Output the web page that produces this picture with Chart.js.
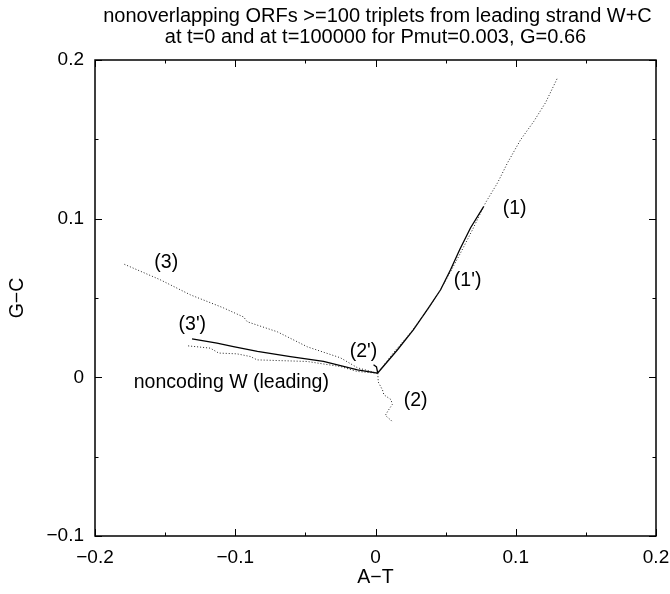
<!DOCTYPE html>
<html>
<head>
<meta charset="utf-8">
<script src="https://cdn.jsdelivr.net/npm/chart.js@4.4.1/dist/chart.umd.min.js"></script>
<style>
  html, body { margin: 0; padding: 0; background: #fff; }
</style>
</head>
<body>
<canvas id="c" width="670" height="594"></canvas>
<script>
// (1) ORFs at t=0, dotted
const orf1X = [0.0014, 0.0128, 0.025, 0.0371, 0.0464, 0.0535, 0.0607, 0.0692, 0.0785, 0.0871, 0.0942, 0.1035, 0.1128, 0.1213, 0.1299];
const orf1Y = [0.0026, 0.0155, 0.0281, 0.0426, 0.0552, 0.0666, 0.0785, 0.0931, 0.1101, 0.1227, 0.1353, 0.1498, 0.1612, 0.1732, 0.189];
// (1') ORFs at t=100000, solid
const orf1pX = [0.0014, 0.0157, 0.0271, 0.0378, 0.0464, 0.0535, 0.060, 0.0678, 0.0771];
const orf1pY = [0.0026, 0.0174, 0.030, 0.0438, 0.0552, 0.0678, 0.0804, 0.0943, 0.1076];
// (2) dotted
const orf2X = [0.0016, 0.002, 0.005, 0.006, 0.011, 0.012, 0.009, 0.007, 0.011, 0.012];
const orf2Y = [0.0026, -0.003, -0.008, -0.011, -0.014, -0.017, -0.021, -0.024, -0.027, -0.028];
// (2') solid
const orf2pX = [0.0016, 0.0007, -0.0014];
const orf2pY = [0.0026, 0.0066, 0.0079];
// (3) dotted
const orf3X = [0.0014, -0.0128, -0.025, -0.0485, -0.070, -0.0914, -0.094, -0.1085, -0.132, -0.1535, -0.180];
const orf3Y = [0.0026, 0.006, 0.0123, 0.0192, 0.0287, 0.035, 0.038, 0.0438, 0.052, 0.0615, 0.0716];
// (3') solid
const orf3pX = [0.0014, -0.0128, -0.0371, -0.0607, -0.0842, -0.1013, -0.113, -0.1308];
const orf3pY = [0.0026, 0.0047, 0.010, 0.0131, 0.0163, 0.0194, 0.0216, 0.0243];
// noncoding W (leading), dotted
const ncX = [0.0014, -0.0131, -0.025, -0.0488, -0.0702, -0.0844, -0.0892, -0.0987, -0.1118, -0.1178, -0.1344];
const ncY = [0.0026, 0.0037, 0.0068, 0.010, 0.0106, 0.011, 0.0131, 0.0148, 0.0153, 0.0184, 0.0199];

const xTicks = [-0.2, -0.1, 0, 0.1, 0.2];
const yTicks = [-0.1, 0, 0.1, 0.2];

const titleLines = ['nonoverlapping ORFs >=100 triplets from leading strand W+C',
                    'at t=0 and at t=100000 for Pmut=0.003, G=0.66'];
const labelText = ['(1)', "(1')", '(3)', "(3')", "(2')", '(2)', 'noncoding W (leading)'];
const labelX = [0.0992, 0.0657, -0.1492, -0.1306, -0.0086, 0.0286, -0.1028];
const labelY = [0.1063, 0.0609, 0.0722, 0.0331, 0.0161, -0.0148, -0.0035];

const FONT = '"Liberation Sans", Arial, Helvetica, sans-serif';
const pts = (xs, ys) => xs.map((v, i) => ({ x: v, y: ys[i] }));
const fmt = v => (Math.abs(v) < 1e-9 ? '0' : v.toFixed(1).replace('-', '\u2212'));

const dotted = (data) => ({ data, borderColor: '#222', borderWidth: 1, borderDash: [1, 2], pointRadius: 0, showLine: true, fill: false, tension: 0 });
const solid = (data) => ({ data, borderColor: '#000', borderWidth: 1.3, pointRadius: 0, showLine: true, fill: false, tension: 0 });

// no extra padding for overhanging tick labels
const noPad = s => { s.paddingLeft = s.paddingRight = s.paddingTop = s.paddingBottom = 0; };

const framePlugin = {
  id: 'frame',
  afterDatasetsDraw(chart) {
    const { ctx, chartArea: a, scales: { x, y } } = chart;
    ctx.save();
    ctx.strokeStyle = '#000';
    ctx.lineWidth = 1;
    ctx.beginPath();
    const xVals = [];
    xTicks.forEach((v, i) => {
      xVals.push([v, 7]);
      if (i < xTicks.length - 1) xVals.push([(v + xTicks[i + 1]) / 2, 3.5]);
    });
    xVals.forEach(([v, len]) => {
      const px = Math.round(x.getPixelForValue(v)) + 0.5;
      ctx.moveTo(px, a.bottom); ctx.lineTo(px, a.bottom - len);
      ctx.moveTo(px, a.top); ctx.lineTo(px, a.top + len);
    });
    const yVals = [];
    yTicks.forEach((v, i) => {
      yVals.push([v, 7]);
      if (i < yTicks.length - 1) yVals.push([(v + yTicks[i + 1]) / 2, 3.5]);
    });
    yVals.forEach(([v, len]) => {
      const py = Math.round(y.getPixelForValue(v)) + 0.5;
      ctx.moveTo(a.left, py); ctx.lineTo(a.left + len, py);
      ctx.moveTo(a.right, py); ctx.lineTo(a.right - len, py);
    });
    ctx.stroke();
    ctx.lineWidth = 1.5;
    ctx.strokeRect(a.left, a.top, a.right - a.left, a.bottom - a.top);

    ctx.fillStyle = '#000';
    ctx.textAlign = 'center';
    ctx.textBaseline = 'middle';
    ctx.font = '19.5px ' + FONT;
    labelText.forEach((t, i) => {
      ctx.fillText(t, x.getPixelForValue(labelX[i]), y.getPixelForValue(labelY[i]));
    });
    const cx = (a.left + a.right) / 2;
    ctx.fillText('A\u2212T', cx, 578);
    ctx.font = '20px ' + FONT;
    ctx.fillText(titleLines[0], cx + 2, 16);
    ctx.fillText(titleLines[1], cx, 37);
    ctx.font = '19.5px ' + FONT;
    ctx.translate(18, (a.top + a.bottom) / 2);
    ctx.rotate(-Math.PI / 2);
    ctx.fillText('G\u2212C', 0, 0);
    ctx.restore();
  }
};

new Chart(document.getElementById('c'), {
  type: 'scatter',
  data: {
    datasets: [
      dotted(pts(orf1X, orf1Y)),
      solid(pts(orf1pX, orf1pY)),
      dotted(pts(orf2X, orf2Y)),
      solid(pts(orf2pX, orf2pY)),
      dotted(pts(orf3X, orf3Y)),
      solid(pts(orf3pX, orf3pY)),
      dotted(pts(ncX, ncY))
    ]
  },
  options: {
    responsive: false,
    animation: false,
    devicePixelRatio: 1,
    layout: { padding: { top: 60, right: 14, left: 0, bottom: 0 } },
    plugins: { legend: { display: false }, tooltip: { enabled: false } },
    scales: {
      x: {
        type: 'linear', min: -0.2, max: 0.2,
        afterBuildTicks: s => { s.ticks = xTicks.map(v => ({ value: v })); },
        afterFit: s => { s.height = 58; noPad(s); },
        grid: { display: false, drawTicks: false },
        border: { display: false },
        ticks: { callback: fmt, color: '#000', font: { family: FONT, size: 19 }, padding: 10, maxRotation: 0 }
      },
      y: {
        type: 'linear', min: -0.1, max: 0.2,
        afterBuildTicks: s => { s.ticks = yTicks.map(v => ({ value: v })); },
        afterFit: s => { s.width = 95; noPad(s); },
        grid: { display: false, drawTicks: false },
        border: { display: false },
        ticks: { callback: fmt, color: '#000', font: { family: FONT, size: 19 }, padding: 11 }
      }
    }
  },
  plugins: [framePlugin]
});
</script>
</body>
</html>
